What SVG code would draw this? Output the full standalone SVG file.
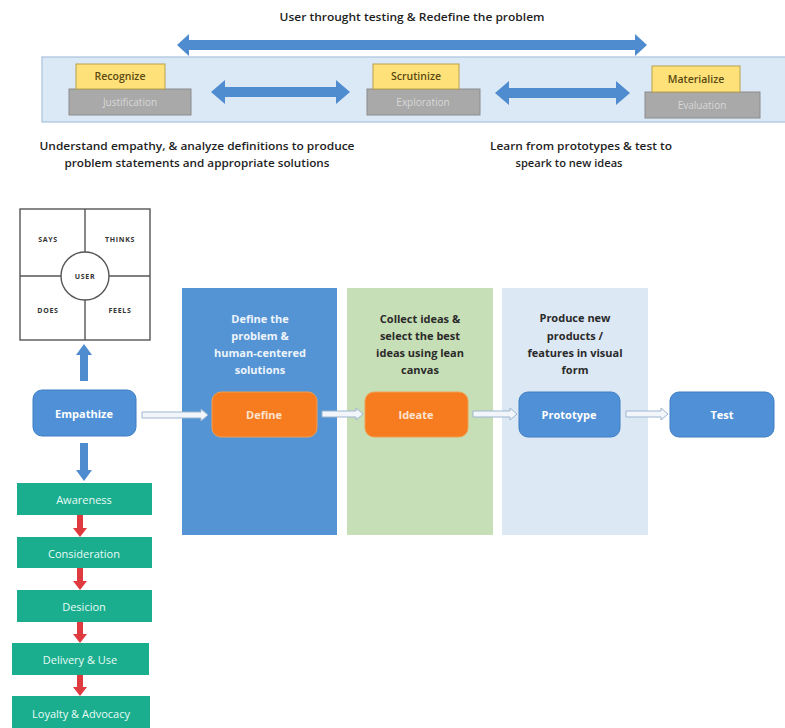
<svg xmlns="http://www.w3.org/2000/svg" width="785" height="728" viewBox="0 0 785 728">
<style>
text{font-family:"Open Sans","Noto Sans","Liberation Sans",sans-serif;text-anchor:middle;dominant-baseline:central}
.hdr{font-size:10px;font-weight:600;fill:#1e1e1e}
.yel{fill:#ffe17a;stroke:#b8a24a;stroke-width:1}
.yt{font-size:10.5px;font-weight:600;fill:#5b4a10}
.gry{fill:#a9a9a9;stroke:#8c8c8c;stroke-width:1}
.gt{font-size:10px;fill:#d8d8d8}
.barrow{fill:#4f8bcf}
.map{fill:#fff;stroke:#555;stroke-width:1.4}
.mt{font-size:7px;font-weight:700;fill:#333;letter-spacing:0.7px}
.bnode{fill:#4f90d6;stroke:#3f7fc4;stroke-width:1}
.onode{fill:#f77b1f;stroke:#f0a050;stroke-width:1}
.nt{font-size:11px;font-weight:700;fill:#fff}
.ot{font-size:11px;font-weight:700;fill:#fde3cf}
.fun{fill:#1aae8e}
.ft{font-size:11px;fill:#e8fbf6}
.red{fill:#de3a3f}
.hol{fill:#f2f6fb;stroke:#9db5cf;stroke-width:1}
.cw{font-size:11px;font-weight:700;fill:#eef4fb}
.cd{font-size:11px;font-weight:700;fill:#2a2a2a}
</style>

<text class="hdr" x="412" y="17" textLength="265" lengthAdjust="spacingAndGlyphs">User throught testing &amp; Redefine the problem</text>

<g id="band">
<rect x="42" y="57" width="750" height="65" fill="#dbe8f6" stroke="#a8c2de" stroke-width="1.2"/>
</g>

<g id="recognize">
<rect class="gry" x="69" y="89" width="122" height="26"/>
<text class="gt" x="130" y="102">Justification</text>
<rect class="yel" x="76" y="64" width="89" height="25"/>
<text class="yt" x="120" y="76">Recognize</text>
</g>
<g id="scrutinize">
<rect class="gry" x="367" y="89" width="113" height="26"/>
<text class="gt" x="423" y="102">Exploration</text>
<rect class="yel" x="373" y="64" width="86" height="25"/>
<text class="yt" x="416" y="76">Scrutinize</text>
</g>
<g id="materialize">
<rect class="gry" x="645" y="92" width="115" height="26"/>
<text class="gt" x="702" y="105">Evaluation</text>
<rect class="yel" x="652" y="66" width="88" height="26"/>
<text class="yt" x="696" y="79">Materialize</text>
</g>

<text class="hdr" x="197" y="146" textLength="315" lengthAdjust="spacingAndGlyphs">Understand empathy, &amp; analyze definitions to produce</text>
<text class="hdr" x="197" y="163" textLength="265" lengthAdjust="spacingAndGlyphs">problem statements and appropriate solutions</text>
<text class="hdr" x="581" y="146" textLength="182" lengthAdjust="spacingAndGlyphs">Learn from prototypes &amp; test to</text>
<text class="hdr" x="569" y="163" textLength="107" lengthAdjust="spacingAndGlyphs">speark to new ideas</text>

<g id="columns">
<rect x="182" y="288" width="155" height="247" fill="#5594d4"/>
<rect x="347" y="288" width="146" height="247" fill="#c7dfb6"/>
<rect x="502" y="288" width="146" height="247" fill="#dde8f5"/>
<text class="cw" x="260" y="318">Define the</text>
<text class="cw" x="260" y="335">problem &amp;</text>
<text class="cw" x="260" y="352">human-centered</text>
<text class="cw" x="260" y="369">solutions</text>
<text class="cd" x="420" y="318">Collect ideas &amp;</text>
<text class="cd" x="420" y="335">select  the best</text>
<text class="cd" x="420" y="352">ideas using lean</text>
<text class="cd" x="420" y="369">canvas</text>
<text class="cd" x="575" y="317">Produce new</text>
<text class="cd" x="575" y="335">products /</text>
<text class="cd" x="575" y="352">features  in visual</text>
<text class="cd" x="575" y="369">form</text>
</g>

<g id="empathy-map">
<rect class="map" x="20" y="209" width="130" height="131"/>
<line x1="85" y1="209" x2="85" y2="340" stroke="#555" stroke-width="1.4"/>
<line x1="20" y1="276" x2="150" y2="276" stroke="#555" stroke-width="1.4"/>
<circle class="map" cx="85" cy="276" r="24"/>
<text class="mt" x="48" y="239">SAYS</text>
<text class="mt" x="120" y="239">THINKS</text>
<text class="mt" x="48" y="310">DOES</text>
<text class="mt" x="120" y="310">FEELS</text>
<text class="mt" x="85" y="276">USER</text>
</g>

<g id="empathize">
<rect class="bnode" x="33" y="390" width="103" height="46" rx="9"/>
<text class="nt" x="84" y="413">Empathize</text>
</g>
<g id="define">
<rect class="onode" x="212" y="392" width="105" height="45" rx="9"/>
<text class="ot" x="264" y="414">Define</text>
</g>
<g id="ideate">
<rect class="onode" x="365" y="392" width="103" height="45" rx="9"/>
<text class="ot" x="416" y="414">Ideate</text>
</g>
<g id="prototype">
<rect class="bnode" x="519" y="392" width="101" height="45" rx="9"/>
<text class="nt" x="569" y="414">Prototype</text>
</g>
<g id="test">
<rect class="bnode" x="670" y="392" width="104" height="45" rx="9"/>
<text class="nt" x="722" y="414">Test</text>
</g>

<g id="awareness"><rect class="fun" x="17" y="483" width="135" height="32"/><text class="ft" x="84" y="499">Awareness</text></g>
<g id="consideration"><rect class="fun" x="17" y="537" width="135" height="31"/><text class="ft" x="84" y="553">Consideration</text></g>
<g id="desicion"><rect class="fun" x="17" y="590" width="135" height="32"/><text class="ft" x="84" y="606">Desicion</text></g>
<g id="delivery"><rect class="fun" x="12" y="643" width="137" height="32"/><text class="ft" x="80" y="659">Delivery &amp; Use</text></g>
<g id="loyalty"><rect class="fun" x="12" y="696" width="138" height="32"/><text class="ft" x="81" y="713">Loyalty &amp; Advocacy</text></g>

<g id="connectors">
<path class="barrow" d="M177 45 L189 34 L189 40 L635 40 L635 34 L647 45 L635 56 L635 50 L189 50 L189 56 Z"/>
<path class="barrow" d="M211 92 L225 80 L225 87 L336 87 L336 80 L350 92 L336 104 L336 97 L225 97 L225 104 Z"/>
<path class="barrow" d="M495 93 L509 81 L509 88 L616 88 L616 81 L630 93 L616 105 L616 98 L509 98 L509 105 Z"/>
<path class="barrow" d="M84 344 L92 355 L88 355 L88 381 L80 381 L80 355 L76 355 Z"/>
<path class="barrow" d="M80 443 L88 443 L88 470 L92 470 L84 481 L76 470 L80 470 Z"/>
<path class="red" d="M77 515 L83 515 L83 528 L87 528 L80 537 L73 528 L77 528 Z"/>
<path class="red" d="M77 568 L83 568 L83 581 L87 581 L80 590 L73 581 L77 581 Z"/>
<path class="red" d="M77 622 L83 622 L83 634 L87 634 L80 643 L73 634 L77 634 Z"/>
<path class="red" d="M77 675 L83 675 L83 687 L87 687 L80 696 L73 687 L77 687 Z"/>
<path class="hol" d="M142 412 L201 412 L201 409 L208 415 L201 421 L201 418 L142 418 Z"/>
<path class="hol" d="M322 411 L356 411 L356 408 L363 414 L356 420 L356 417 L322 417 Z"/>
<path class="hol" d="M473 411 L510 411 L510 408 L517 414 L510 420 L510 417 L473 417 Z"/>
<path class="hol" d="M626 411 L661 411 L661 408 L668 414 L661 420 L661 417 L626 417 Z"/>
</g>
</svg>
